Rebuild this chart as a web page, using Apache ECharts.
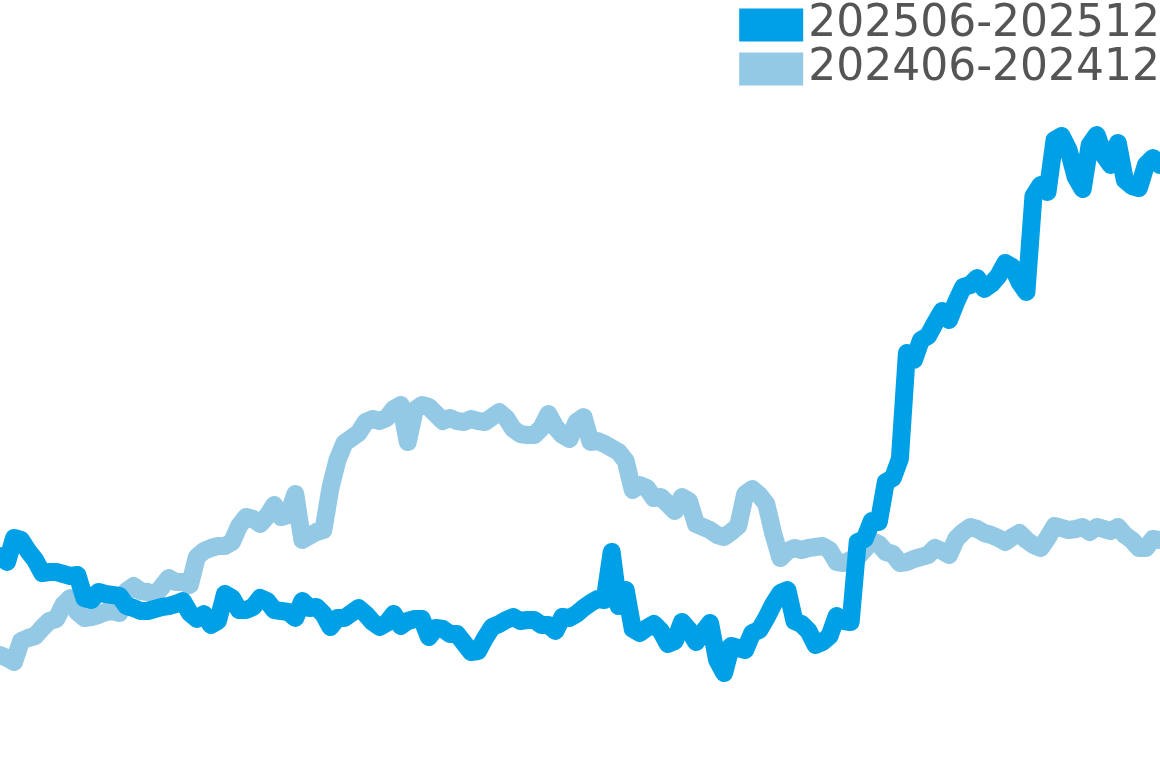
<!DOCTYPE html>
<html>
<head>
<meta charset="utf-8">
<script src="https://cdn.jsdelivr.net/npm/echarts@6/dist/echarts.min.js"></script>
<style>
html,body{margin:0;padding:0;background:#fff;}
#chart{width:1160px;height:768px;}
</style>
</head>
<body>
<div id="chart"></div>
<script>
const seriesNames = ['202506-202512', '202406-202412'];

const values2025 = [212,206,230,228,217,208,195,196,196,194,192,193,170,168,176,174,173,172,162,160,
157,157,159,161,162,164,167,155,149,154,143,147,174,170,158,158,161,170,167,158,
157,156,150,167,160,161,154,141,150,150,155,160,154,146,141,145,154,142,147,149,
149,131,140,139,134,134,125,116,117,130,141,144,148,151,147,148,148,143,143,137,
151,150,154,160,165,169,168,216,162,178,139,135,140,144,137,124,127,146,138,126,
136,145,108,95,122,120,118,135,138,150,164,175,178,147,144,137,123,126,132,152,
147,146,226,229,247,246,286,290,309,415,408,428,432,445,457,448,466,481,483,490,
479,484,492,505,501,486,476,572,583,576,628,632,618,591,579,623,633,613,603,625,
588,582,580,603,610,603];

const values2024 = [113,110,106,127,130,132,140,147,149,163,170,156,150,151,153,156,157,155,177,182,
177,176,173,181,190,186,186,183,211,217,220,222,222,226,242,251,249,244,252,263,
251,253,274,228,232,236,238,280,308,325,330,335,346,349,347,350,359,363,326,358,
363,361,354,347,350,347,346,349,347,346,351,356,350,339,334,333,333,340,354,341,
333,329,346,351,326,327,324,320,316,307,278,283,280,270,271,264,257,271,267,244,
241,238,233,231,236,242,274,279,273,264,234,210,217,220,218,220,221,222,218,206,
205,208,211,219,227,224,216,214,205,206,209,211,213,220,217,213,229,236,241,239,
235,233,230,226,231,235,228,223,220,230,242,240,238,239,241,236,241,239,237,241,
233,228,220,220,229,228];

const categories = values2025.map((_, i) => String(i + 1));

const chart = echarts.init(document.getElementById('chart'));
chart.setOption({
  animation: false,
  backgroundColor: '#ffffff',
  grid: { left: 0, right: 0, top: 0, bottom: 0, containLabel: false },
  legend: {
    data: seriesNames,
    orient: 'vertical',
    right: 0,
    top: 3,
    padding: 0,
    itemGap: 0,
    itemWidth: 64,
    itemHeight: 33,
    icon: 'rect',
    textStyle: { fontSize: 44, color: '#555555', fontFamily: 'DejaVu Sans' }
  },
  xAxis: {
    type: 'category',
    data: categories,
    boundaryGap: false,
    show: false
  },
  yAxis: {
    type: 'value',
    min: 0,
    max: 768,
    show: false
  },
  series: [
    {
      name: seriesNames[1],
      type: 'line',
      data: values2024,
      showSymbol: false,
      color: '#93C9E4',
      lineStyle: { width: 18, color: '#93C9E4', cap: 'round', join: 'round' },
      z: 2
    },
    {
      name: seriesNames[0],
      type: 'line',
      data: values2025,
      showSymbol: false,
      color: '#00A0E6',
      lineStyle: { width: 18, color: '#00A0E6', cap: 'round', join: 'round' },
      z: 3
    }
  ]
});
</script>
</body>
</html>
